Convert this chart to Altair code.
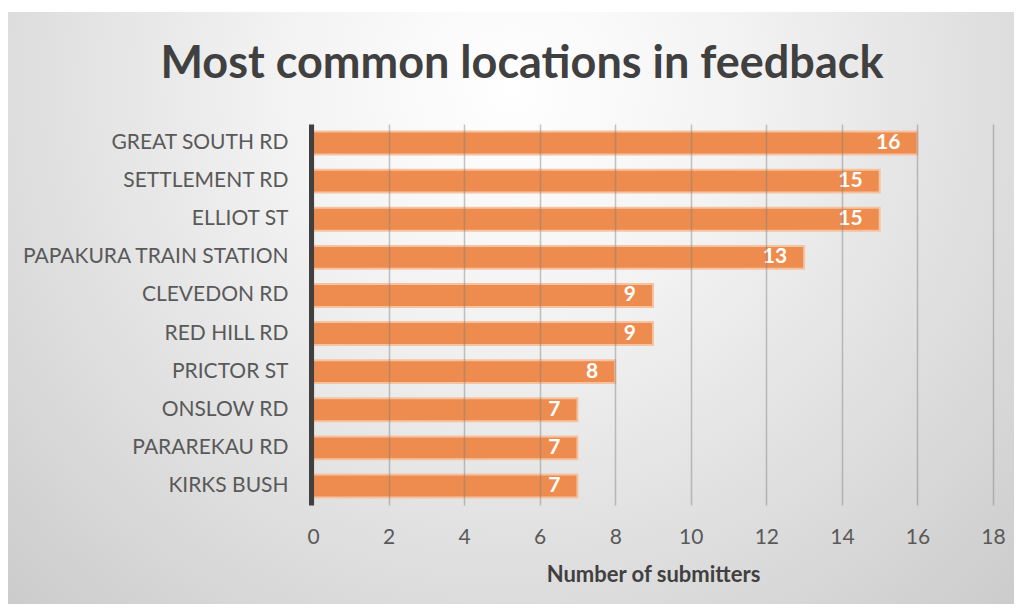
import altair as alt
import pandas as pd

# ---- data ----
locations = [
    "GREAT SOUTH RD",
    "SETTLEMENT RD",
    "ELLIOT ST",
    "PAPAKURA TRAIN STATION",
    "CLEVEDON RD",
    "RED HILL RD",
    "PRICTOR ST",
    "ONSLOW RD",
    "PARAREKAU RD",
    "KIRKS BUSH",
]
submitters = [16, 15, 15, 13, 9, 9, 8, 7, 7, 7]
x_ticks = [0, 2, 4, 6, 8, 10, 12, 14, 16, 18]

title_text = "Most common locations in feedback"
x_title = "Number of submitters"

df = pd.DataFrame({"location": locations, "submitters": submitters})

W, H = 680, 381
PAD = {"left": 305, "top": 116, "right": 21, "bottom": 99}
FONT = "Lato"

# radial-gradient backdrop covering the whole chart area
gradient = {
    "gradient": "radial",
    "x1": 0.5, "y1": 0.28, "r1": 0,
    "x2": 0.5, "y2": 0.28, "r2": 0.9,
    "stops": [
        {"offset": 0, "color": "#ffffff"},
        {"offset": 0.25, "color": "#f3f3f3"},
        {"offset": 0.85, "color": "#c8c8c8"},
        {"offset": 1, "color": "#c2c2c2"},
    ],
}
bg = alt.Chart(pd.DataFrame({"k": [0]})).mark_rect(fill=gradient).encode(
    x=alt.value(-PAD["left"]),
    x2=alt.value(W + PAD["right"]),
    y=alt.value(-112),
    y2=alt.value(H + PAD["bottom"]),
)

y_enc = alt.Y(
    "location:N",
    sort=locations,
    scale=alt.Scale(paddingInner=0.4, paddingOuter=0.2),
    axis=alt.Axis(
        title=None,
        ticks=False,
        tickSize=0,
        grid=False,
        labelPadding=23,
        labelLimit=0,
        offset=2,
        domainColor="#404040",
        domainWidth=5,
        labelFont=FONT,
        labelFontSize=21,
        labelColor="#595959",
        zindex=1,
    ),
)

x_enc = alt.X(
    "submitters:Q",
    scale=alt.Scale(domain=[0, 18], nice=False, zero=True),
    axis=alt.Axis(
        values=x_ticks,
        grid=True,
        gridColor="#7f7f7f",
        gridOpacity=0.45,
        gridWidth=1.5,
        ticks=False,
        tickSize=0,
        domain=False,
        labelFlush=False,
        labelPadding=21,
        labelFont=FONT,
        labelFontSize=21,
        labelColor="#595959",
        title=x_title,
        titleFont=FONT,
        titleFontSize=22,
        titleFontWeight="bold",
        titleColor="#404040",
        titleX=W / 2,
        titleY=69,
        titleBaseline="middle",
        titleAlign="center",
        zindex=1,
    ),
)

bars = alt.Chart(df).mark_bar(
    fill="#ed8c4e", stroke="#f6c29f", strokeWidth=2
).encode(x=x_enc, y=y_enc)

labels = alt.Chart(df).mark_text(
    align="right",
    baseline="middle",
    dx=-17,
    color="white",
    font=FONT,
    fontWeight="bold",
    fontSize=21,
).encode(
    x=alt.X("submitters:Q"),
    y=alt.Y("location:N", sort=locations),
    text=alt.Text("submitters:Q"),
)

chart = (
    alt.layer(bg, bars, labels)
    .properties(
        width=W,
        height=H,
        padding=PAD,
        autosize=alt.AutoSizeParams(type="none"),
        title=alt.TitleParams(
            text=title_text,
            font=FONT,
            fontSize=45,
            fontWeight="bold",
            color="#404040",
            anchor="middle",
            frame="group",
            dx=-131,
            dy=75,
            offset=0,
            zindex=1,
        ),
    )
    .configure_view(strokeWidth=0)
    .configure(background="white")
)

chart.save("out.html", embed_options={"renderer": "svg", "actions": False})
